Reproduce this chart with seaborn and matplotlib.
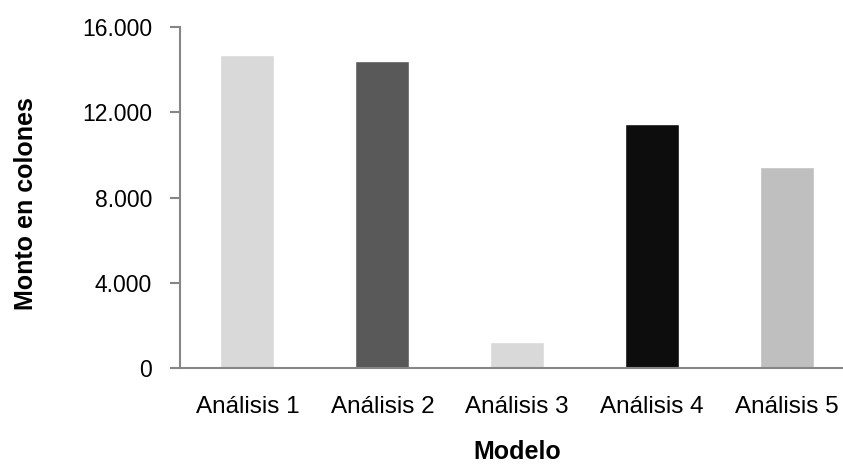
import matplotlib
matplotlib.use("Agg")
import matplotlib.pyplot as plt
import seaborn as sns
from matplotlib.ticker import FixedLocator, FuncFormatter

categories = ["Análisis 1", "Análisis 2", "Análisis 3", "Análisis 4", "Análisis 5"]
montos = [14700, 14420, 1220, 11460, 9440]
bar_colors = ["#D9D9D9", "#595959", "#D9D9D9", "#0D0D0D", "#BFBFBF"]
y_ticks = [0, 4000, 8000, 12000, 16000]

sns.set_style("white")
plt.rcParams["font.family"] = ["Liberation Sans", "DejaVu Sans"]
plt.rcParams["text.color"] = "black"

axis_gray = "#868686"

fig = plt.figure(figsize=(8.43, 4.65), dpi=100)
ax = fig.add_axes([0.2135, 0.2086, 0.8001, 0.7327])

sns.barplot(x=categories, y=montos, hue=categories, palette=bar_colors,
            legend=False, width=0.4, saturation=1, ax=ax)

ax.set_xlim(-0.5, 4.5)
ax.set_ylim(0, 16000)
ax.yaxis.set_major_locator(FixedLocator(y_ticks))
ax.yaxis.set_major_formatter(FuncFormatter(lambda v, _: f"{int(v):,}".replace(",", ".")))

# category boundaries get the tick marks, labels sit at the centres
ax.set_xticks(range(len(categories)))
ax.set_xticklabels(categories)
ax.set_xticks([i - 0.5 for i in range(len(categories) + 1)], minor=True)
ax.tick_params(axis="x", which="major", length=0, pad=20, labelsize=17.5, labelcolor="black")
ax.tick_params(axis="x", which="minor", length=6, width=1.5, color=axis_gray, direction="out")
ax.tick_params(axis="y", length=7, width=1.5, color=axis_gray, direction="out",
               pad=13, labelsize=16.5, labelcolor="black", left=True)

for side in ["top", "right"]:
    ax.spines[side].set_visible(False)
for side in ["left", "bottom"]:
    ax.spines[side].set_color(axis_gray)
    ax.spines[side].set_linewidth(1.5)

ax.set_xlabel("Modelo", fontsize=18, fontweight="bold", color="black")
ax.set_ylabel("Monto en colones", fontsize=18, fontweight="bold", color="black")
ax.xaxis.set_label_coords(0.5, -0.212)
ax.yaxis.set_label_coords(-0.2105, 0.483)

fig.savefig("out.png", dpi=100)
plt.close(fig)
